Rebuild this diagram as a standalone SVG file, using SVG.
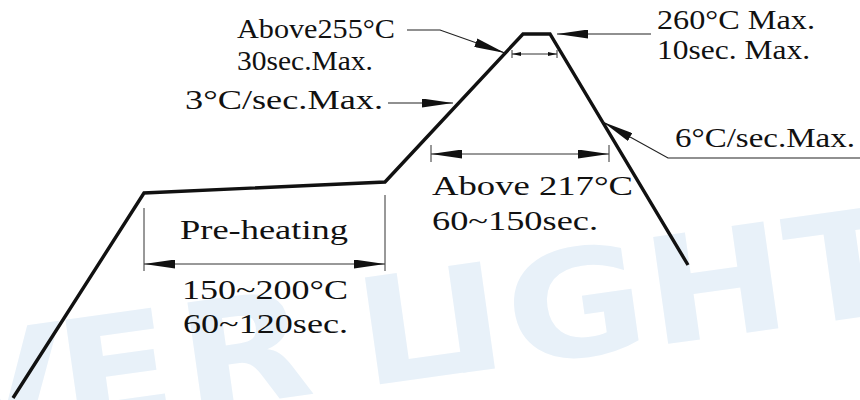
<svg xmlns="http://www.w3.org/2000/svg" width="860" height="400" viewBox="0 0 860 400">
  <style>
    .lbl { font-family: "Liberation Serif", Tinos, "Times New Roman", Times, "Nimbus Roman", FreeSerif, "DejaVu Serif", serif; font-size: 28px; fill: #111; }
    .lead { fill: none; stroke: #222; stroke-width: 1.2; }
    .dim { fill: none; stroke: #333; stroke-width: 1; }
    .profile { fill: none; stroke: #111; stroke-width: 3.4; stroke-linejoin: miter; }
    .wm { font-family: "DejaVu Sans", sans-serif; font-weight: bold; font-size: 148px; fill: #e8f1f9; }
  </style>
  <defs>
    <marker id="arr" markerUnits="userSpaceOnUse" markerWidth="31" markerHeight="9" viewBox="0 0 31 9" refX="31" refY="4.5" orient="auto-start-reverse">
      <path d="M0,0 L31,4.5 L0,9 z" fill="#111"/>
    </marker>
    <marker id="arrS" markerUnits="userSpaceOnUse" markerWidth="9" markerHeight="4" viewBox="0 0 9 4" refX="9" refY="2" orient="auto-start-reverse">
      <path d="M0,0 L9,2 L0,4 z" fill="#111"/>
    </marker>
  </defs>
  <rect width="860" height="400" fill="#fff"/>
  <g id="watermark">
    <text class="wm" transform="translate(376,385) rotate(-8) scale(1.15,1)" x="-480 -379 -273 -166 -10 63 121 243 367" y="0">EVERLIGHT</text>
  </g>
  <g id="profile">
    <path class="profile" d="M13,398 L144,193 L385,182 L523,34 L550,34 L688,265"/>
  </g>
  <g id="connectors">
    <polyline class="lead" points="407,30 440,30 505,53" marker-end="url(#arr)"/>
    <line class="dim" x1="512" y1="54" x2="557" y2="54" marker-start="url(#arrS)" marker-end="url(#arrS)"/>
    <line class="dim" x1="512" y1="50" x2="512" y2="58"/>
    <line class="dim" x1="557" y1="50" x2="557" y2="58"/>
    <line class="lead" x1="651" y1="34" x2="557" y2="34" marker-end="url(#arr)"/>
    <line class="lead" x1="388" y1="103" x2="453" y2="103" marker-end="url(#arr)"/>
    <polyline class="lead" points="860,158 668,158 603,122" marker-end="url(#arr)"/>
    <line class="dim" x1="431" y1="154" x2="609" y2="154" marker-start="url(#arr)" marker-end="url(#arr)"/>
    <line class="dim" x1="431" y1="145" x2="431" y2="162"/>
    <line class="dim" x1="609" y1="145" x2="609" y2="162"/>
    <line class="dim" x1="144" y1="264" x2="385" y2="264" marker-start="url(#arr)" marker-end="url(#arr)"/>
    <line class="dim" x1="144" y1="208" x2="144" y2="271"/>
    <line class="dim" x1="385" y1="195" x2="385" y2="271"/>
  </g>
  <g id="label-above255">
    <text class="lbl" x="237" y="38" textLength="158" lengthAdjust="spacingAndGlyphs">Above255°C</text>
    <text class="lbl" x="237" y="70" textLength="136" lengthAdjust="spacingAndGlyphs">30sec.Max.</text>
  </g>
  <g id="label-260">
    <text class="lbl" x="657" y="29" textLength="158" lengthAdjust="spacingAndGlyphs">260°C Max.</text>
    <text class="lbl" x="657" y="59" textLength="153" lengthAdjust="spacingAndGlyphs">10sec. Max.</text>
  </g>
  <g id="label-3c">
    <text class="lbl" x="185" y="109" textLength="198" lengthAdjust="spacingAndGlyphs">3°C/sec.Max.</text>
  </g>
  <g id="label-6c">
    <text class="lbl" x="675" y="147" textLength="180" lengthAdjust="spacingAndGlyphs">6°C/sec.Max.</text>
  </g>
  <g id="label-preheat">
    <text class="lbl" x="180" y="239" textLength="168" lengthAdjust="spacingAndGlyphs">Pre-heating</text>
    <text class="lbl" x="182" y="299" textLength="166" lengthAdjust="spacingAndGlyphs">150~200°C</text>
    <text class="lbl" x="183" y="333" textLength="165" lengthAdjust="spacingAndGlyphs">60~120sec.</text>
  </g>
  <g id="label-above217">
    <text class="lbl" x="432" y="195" textLength="201" lengthAdjust="spacingAndGlyphs">Above 217°C</text>
    <text class="lbl" x="432" y="230" textLength="166" lengthAdjust="spacingAndGlyphs">60~150sec.</text>
  </g>
</svg>
